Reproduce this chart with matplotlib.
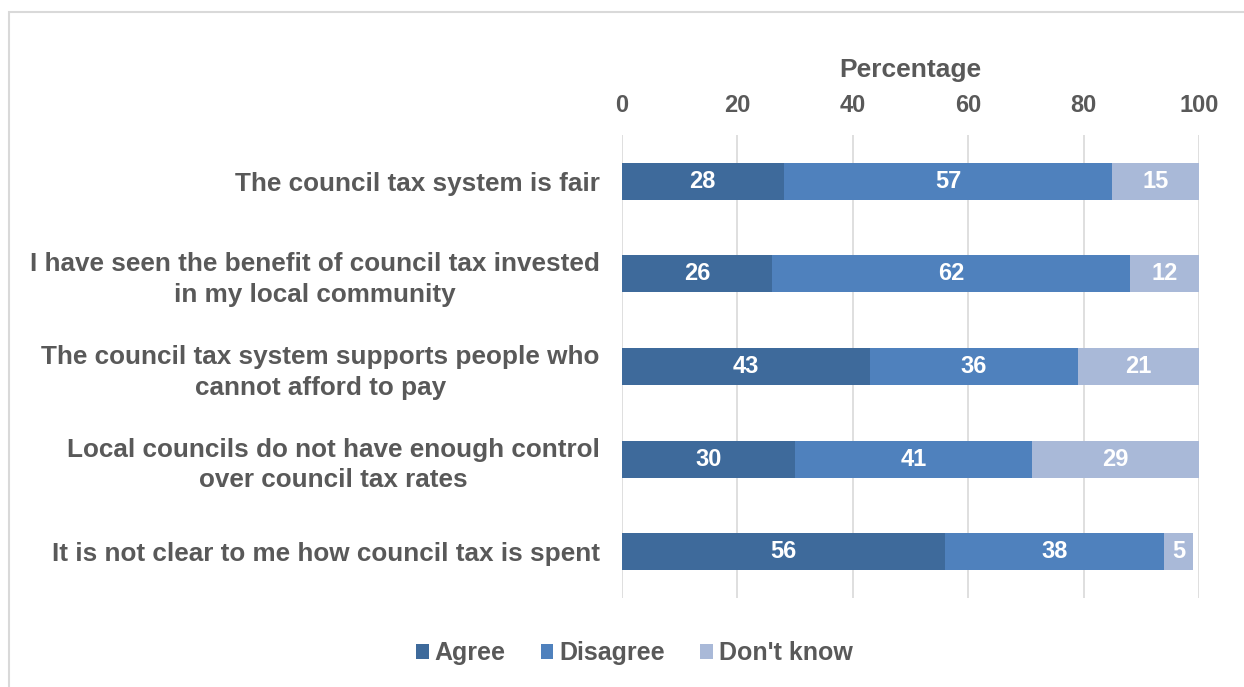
import matplotlib.pyplot as plt
from matplotlib.patches import Rectangle
import numpy as np

# statements, top to bottom
statements = [
    "The council tax system is fair",
    "I have seen the benefit of council tax invested\nin my local community",
    "The council tax system supports people who\ncannot afford to pay",
    "Local councils do not have enough control\nover council tax rates",
    "It is not clear to me how council tax is spent",
]
agree = [28, 26, 43, 30, 56]
disagree = [57, 62, 36, 41, 38]
dont_know = [15, 12, 21, 29, 5]

series_names = ["Agree", "Disagree", "Don't know"]
colors = ["#3E6A9B", "#4F81BD", "#A9B9D8"]
text_grey = "#595959"

plt.rcParams["font.family"] = ["Liberation Sans", "DejaVu Sans"]
plt.rcParams["font.weight"] = "bold"

fig = plt.figure(figsize=(12.44, 6.87), dpi=100)
ax = fig.add_axes([0.5, 0.1296, 0.4638, 0.6739])

# light frame around the chart area (right/bottom edges run off the image)
fig.patches.append(Rectangle((9 / 1244, -0.1), 1.2, 1 - 12 / 687 + 0.1,
                             transform=fig.transFigure, fill=False,
                             edgecolor="#D9D9D9", linewidth=1.5))

y = np.arange(len(statements))
left = np.zeros(len(statements))
for name, vals, col in zip(series_names, [agree, disagree, dont_know], colors):
    bars = ax.barh(y, vals, left=left, height=0.4, color=col, label=name,
                   edgecolor="none", zorder=3)
    ax.bar_label(bars, labels=[str(v) for v in vals], label_type="center",
                 color="white", fontsize=17, fontweight="bold")
    left += np.array(vals)

ax.set_xlim(0, 100)
ax.set_ylim(len(statements) - 0.5, -0.5)
ax.set_xticks([0, 20, 40, 60, 80, 100])
ax.xaxis.tick_top()
ax.xaxis.set_label_position("top")
ax.set_xlabel("Percentage", fontsize=19, color=text_grey, fontweight="bold",
              labelpad=12)
ax.tick_params(axis="x", length=0, pad=13, labelsize=17, labelcolor=text_grey)
ax.set_yticks(y)
ax.set_yticklabels(statements, ha="right", multialignment="center",
                   linespacing=1.35)
ax.tick_params(axis="y", length=0, pad=16, labelsize=18.8, labelcolor=text_grey)

ax.grid(axis="x", color="#D9D9D9", linewidth=1.2, zorder=0)
for s in ax.spines.values():
    s.set_visible(False)

fig.legend(loc="center", bbox_to_anchor=(0.51, 0.049), ncol=3, frameon=False,
           fontsize=18, handlelength=0.5, handleheight=0.5, handletextpad=0.25,
           columnspacing=1.4, labelcolor=text_grey)

fig.savefig("out.png", dpi=100)
